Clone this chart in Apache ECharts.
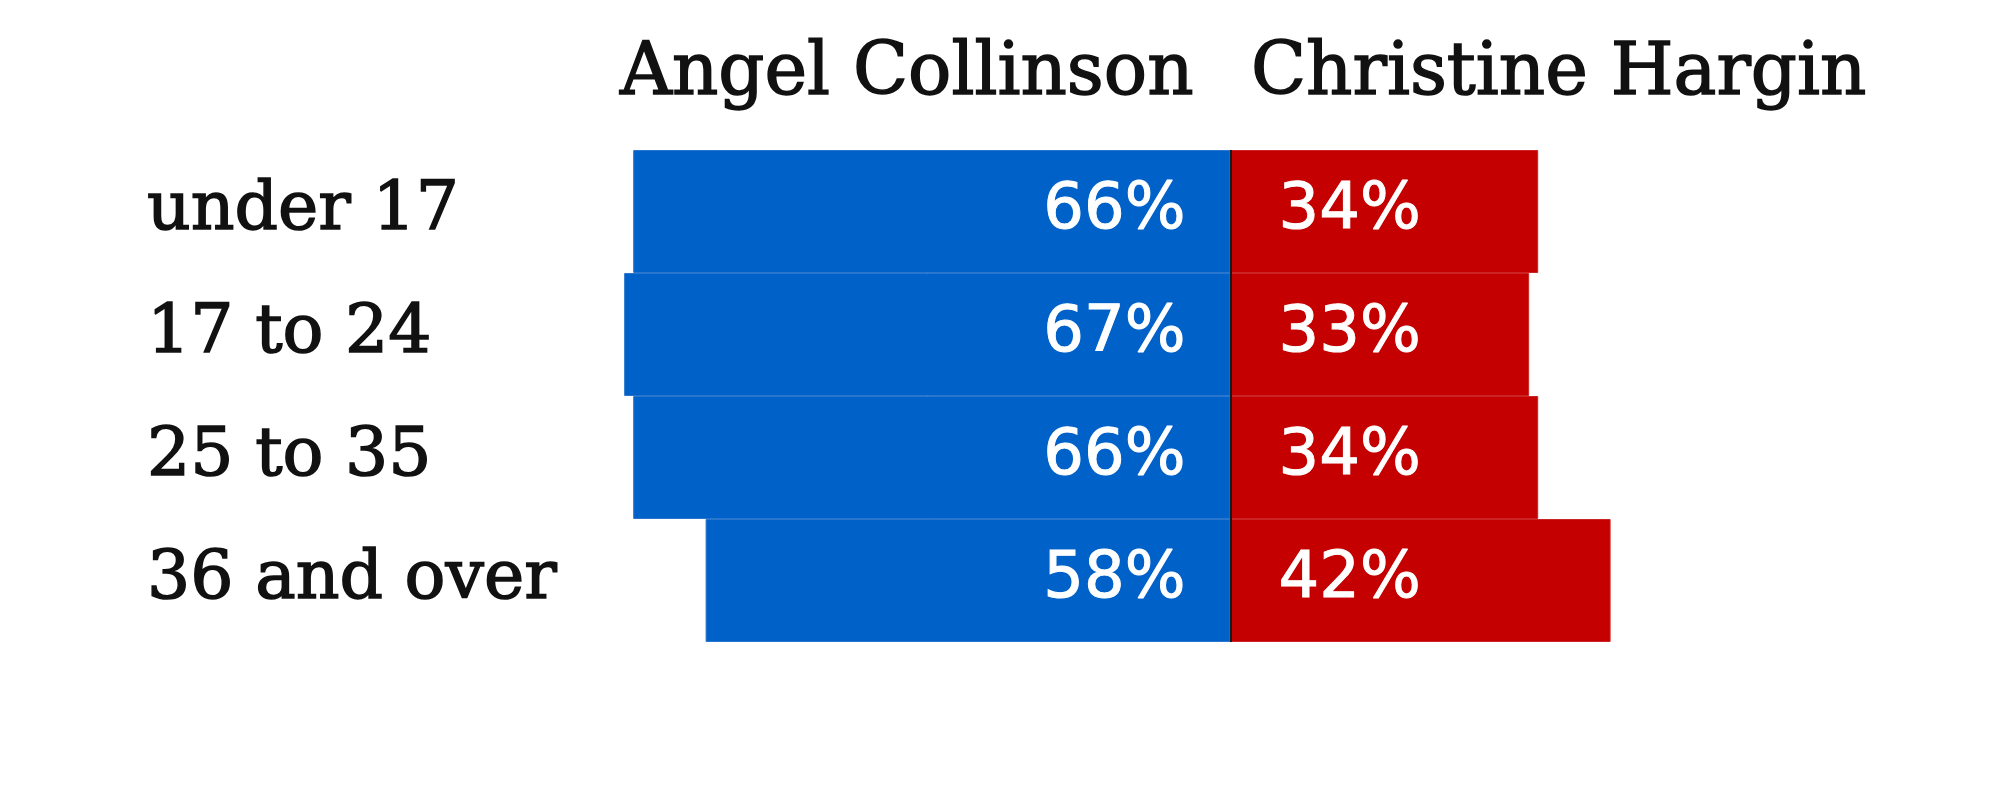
<!DOCTYPE html>
<html>
<head>
<meta charset="utf-8">
<script src="https://cdn.jsdelivr.net/npm/echarts@6/dist/echarts.min.js"></script>
<style>html,body{margin:0;padding:0;background:#fff}#c{width:2000px;height:807px}</style>
</head>
<body>
<div id="c"></div>
<script>
const categories = ['under 17', '17 to 24', '25 to 35', '36 and over'];
const collinson = [66, 67, 66, 58];
const hargin = [34, 33, 34, 42];
const seriesNames = ['Angel Collinson', 'Christine Hargin'];

const chart = echarts.init(document.getElementById('c'));
const gridLeft = 597;
const serifFont = '"DejaVu Serif", serif';
const headStyle = { fontFamily: serifFont, fontSize: 72, fontWeight: 'normal', color: '#111',
  textBorderColor: '#111', textBorderWidth: 1.5 };
chart.setOption({
  animation: false,
  backgroundColor: '#ffffff',
  title: [
    { text: seriesNames[0], right: 800, top: 34, textStyle: headStyle },
    { text: seriesNames[1], left: 1246, top: 34, textStyle: headStyle }
  ],
  grid: { left: gridLeft, width: 1086, top: 150, bottom: 165, containLabel: false },
  xAxis: { type: 'value', min: -70, max: 50, show: false },
  yAxis: {
    type: 'category', data: categories, inverse: true,
    axisLine: { show: false }, axisTick: { show: false }, splitLine: { show: false },
    axisLabel: { align: 'left', margin: gridLeft - 147, fontFamily: serifFont, fontSize: 68, color: '#111',
      textBorderColor: '#111', textBorderWidth: 1.5 }
  },
  series: [
    {
      name: seriesNames[0], type: 'bar', barCategoryGap: '0%', barGap: '-100%',
      data: collinson.map(v => -v),
      itemStyle: { color: '#0061C8', borderColor: '#2a76cc', borderWidth: 1 },
      label: { show: true, position: 'insideRight', distance: 45, formatter: p => Math.abs(p.value) + '%',
        fontFamily: 'DejaVu Sans', fontSize: 64, color: '#fff', textBorderColor: '#fff', textBorderWidth: 1 }
    },
    {
      name: seriesNames[1], type: 'bar', barCategoryGap: '0%', barGap: '-100%',
      data: hargin,
      itemStyle: { color: '#C40000', borderColor: '#cc2424', borderWidth: 1 },
      label: { show: true, position: 'insideLeft', distance: 48, formatter: p => p.value + '%',
        fontFamily: 'DejaVu Sans', fontSize: 64, color: '#fff', textBorderColor: '#fff', textBorderWidth: 1 },
      markLine: { silent: true, symbol: 'none', label: { show: false },
        lineStyle: { color: '#1a1a1a', width: 2, type: 'solid' },
        data: [{ xAxis: 0 }] }
    }
  ]
});
</script>
</body>
</html>
